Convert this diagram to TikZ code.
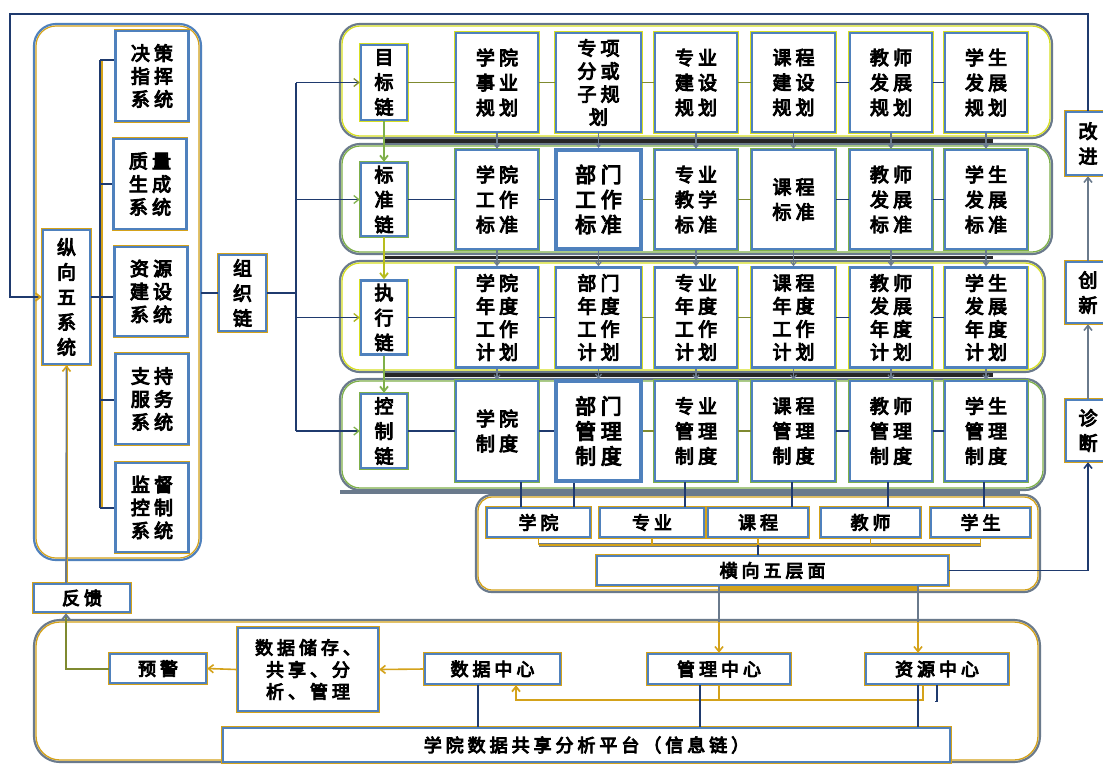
\documentclass[tikz,border=0pt]{standalone}
\usepackage{fontspec}
\setmainfont{Noto Sans CJK SC}[LetterSpace=22,FakeBold=5]
\usetikzlibrary{arrows.meta}
\definecolor{bcol}{HTML}{4F81BD}
\definecolor{gd}{HTML}{D4A21A}
\definecolor{yl}{HTML}{D7DF23}
\definecolor{gn}{HTML}{7FB04A}
\definecolor{nv}{HTML}{1F3A6E}
\definecolor{gy}{HTML}{6A7A8C}
\definecolor{ol}{HTML}{7F8A30}
\newcommand\fsA{\fontsize{19}{25}\selectfont}
\newcommand\fsB{\fontsize{19}{23}\selectfont}
\newcommand\fsC{\fontsize{18}{22}\selectfont}
\newcommand\fsD{\fontsize{21}{25}\selectfont}
\tikzset{
  bx/.style={draw=bcol, line width=2.4, fill=white, align=center, inner sep=0pt, font=\fsA,
    preaction={draw=#1, line width=3.8}},
  bx/.default=gd,
  conn/.style={draw=nv, line width=1.3},
  connol/.style={draw=ol, line width=1.6},
  varr/.style={draw=gy, line width=1.2, -{Straight Barb[length=4pt,width=6pt]}},
  arr/.style={-{Straight Barb[length=5pt,width=8pt]}},
  contout/.style={draw=gy, line width=2.2},
  contin/.style={line width=1.3},
}
\begin{document}
\begin{tikzpicture}[x=1pt,y=-1pt]
\useasboundingbox (0,0) rectangle (1103,764);
\fill[white] (0,0) rectangle (1103,764);

% ---------- containers ----------
\draw[draw=bcol, line width=2.2, rounded corners=22] (34,24) rectangle (201,560);
\draw[draw=gd, line width=1.2, rounded corners=20] (36,26) rectangle (199,558);
\draw[contout, rounded corners=20] (340,24) rectangle (1052,138);
\draw[contin, draw=yl, rounded corners=18] (342,26) rectangle (1050,136);
\draw[contout, rounded corners=20] (340,144) rectangle (1052,254);
\draw[contin, draw=gn, rounded corners=18] (342,146) rectangle (1050,252);
\draw[contout, rounded corners=20] (340,261) rectangle (1045,372);
\draw[contin, draw=yl, rounded corners=18] (342,263) rectangle (1043,370);
\draw[contout, rounded corners=20] (340,379) rectangle (1045,490);
\draw[contin, draw=gn, rounded corners=18] (342,381) rectangle (1043,488);
\draw[line width=3.2, black!85] (385,141) -- (993,141);
\draw[line width=3.2, black!85] (385,257.5) -- (993,257.5);
\draw[line width=3.2, black!85] (385,375) -- (993,375);
\draw[line width=4, gy] (340,492) -- (1020,492);
\draw[contout, rounded corners=16] (476,495) rectangle (1040,592);
\draw[contin, draw=gd, rounded corners=14] (478,497) rectangle (1038,590);
\draw[contout, rounded corners=26] (34,620) rectangle (1040,762);
\draw[contin, draw=gd, rounded corners=24] (36,622) rectangle (1038,760);

% ---------- left side ----------
\node[bx, minimum width=47, minimum height=134] (zx) at (66.5,297) {纵\\向\\五\\系\\统};
\node[bx, font=\fsB, minimum width=73, minimum height=90] (s1) at (152,76) {决策\\指挥\\系统};
\node[bx, font=\fsB, minimum width=73, minimum height=90] (s2) at (150,184) {质量\\生成\\系统};
\node[bx, font=\fsB, minimum width=73, minimum height=89] (s3) at (151,291.5) {资源\\建设\\系统};
\node[bx, font=\fsB, minimum width=73, minimum height=90] (s4) at (152,399) {支持\\服务\\系统};
\node[bx, font=\fsB, minimum width=73, minimum height=89] (s5) at (152,507.5) {监督\\控制\\系统};
\coordinate (lb1) at (100,60);
\coordinate (lb2) at (100,184);
\coordinate (lb4) at (100,400);
\coordinate (lb5) at (100,508);
\draw[gd, line width=2.4] ([xshift=1.5]lb1) -- ([xshift=1.5]lb5);
\draw[nv, line width=1.4] (lb1) -- (lb5);
\draw[conn] (lb1) -- (lb1 -| s1.west);
\draw[conn] (lb2) -- (lb2 -| s2.west);
\draw[conn] (zx.east) -- (zx.east -| s3.west);
\draw[conn] (lb4) -- (lb4 -| s4.west);
\draw[conn] (lb5) -- (lb5 -| s5.west);

\node[bx, minimum width=47, minimum height=76] (zz) at (242.5,293) {组\\织\\链};
\coordinate (lc) at (201,293);
\draw[conn, line width=1.8] (lc) -- (zz.west);

% ---------- chain boxes ----------
\node[bx=yl, minimum width=46, minimum height=75] (c1) at (384,82.5) {目\\标\\链};
\node[bx=gn, minimum width=46, minimum height=73] (c2) at (384,199.5) {标\\准\\链};
\node[bx=yl, minimum width=46, minimum height=74] (c3) at (384,317.5) {执\\行\\链};
\node[bx=gn, minimum width=46, minimum height=74] (c4) at (384,431) {控\\制\\链};
\coordinate (o1) at (296,82.5);
\coordinate (o2) at (296,199.5);
\coordinate (o3) at (296,317.5);
\coordinate (o4) at (296,431);
\draw[nv, line width=1.8] (zz.east) -- (zz.east -| o1);
\draw[nv, line width=1.8] (o1) -- (o4);
\draw[conn, -{Straight Barb[length=5pt,width=8pt,color=ol]}] (o1) -- (c1.west);
\draw[conn, -{Straight Barb[length=5pt,width=8pt,color=gn]}] (o2) -- (c2.west);
\draw[conn, -{Straight Barb[length=5pt,width=8pt,color=yl!80!black]}] (o3) -- (c3.west);
\draw[conn, -{Straight Barb[length=5pt,width=8pt,color=gn]}] (o4) -- (c4.west);
\draw[gn, line width=1.8, arr] (c1.south) -- (c2.north);
\draw[yl!85!black, line width=1.8, arr] (c2.south) -- (c3.north);
\draw[gn, line width=1.8, arr] (c3.south) -- (c4.north);

% ---------- row 1 ----------
\node[bx=yl, minimum width=82, minimum height=99] (r11) at (497,82.5) {学院\\事业\\规划};
\node[bx=yl, font=\fsB, minimum width=85, minimum height=99] (r12) at (598.5,82.5) {专项\\分或\\子规\\划};
\node[bx=yl, minimum width=82, minimum height=99] (r13) at (696,82.5) {专业\\建设\\规划};
\node[bx=yl, minimum width=83, minimum height=99] (r14) at (793.5,82.5) {课程\\建设\\规划};
\node[bx=yl, minimum width=82, minimum height=99] (r15) at (891,82.5) {教师\\发展\\规划};
\node[bx=yl, minimum width=82, minimum height=99] (r16) at (986,82.5) {学生\\发展\\规划};
% ---------- row 2 ----------
\node[bx=gn, minimum width=82, minimum height=99] (r21) at (497,199.5) {学院\\工作\\标准};
\node[bx=gn, font=\fsD, line width=4, minimum width=85, minimum height=99] (r22) at (598.5,199.5) {部门\\工作\\标准};
\node[bx=gn, minimum width=82, minimum height=99] (r23) at (696,199.5) {专业\\教学\\标准};
\node[bx=gn, minimum width=83, minimum height=99] (r24) at (793.5,199.5) {课程\\标准};
\node[bx=gn, minimum width=82, minimum height=99] (r25) at (891,199.5) {教师\\发展\\标准};
\node[bx=gn, minimum width=82, minimum height=99] (r26) at (986,199.5) {学生\\发展\\标准};
% ---------- row 3 ----------
\node[bx=yl, font=\fsB, minimum width=82, minimum height=100] (r31) at (497,317.5) {学院\\年度\\工作\\计划};
\node[bx=yl, font=\fsB, minimum width=85, minimum height=100] (r32) at (598.5,317.5) {部门\\年度\\工作\\计划};
\node[bx=yl, font=\fsB, minimum width=82, minimum height=100] (r33) at (696,317.5) {专业\\年度\\工作\\计划};
\node[bx=yl, font=\fsB, minimum width=83, minimum height=100] (r34) at (793.5,317.5) {课程\\年度\\工作\\计划};
\node[bx=yl, font=\fsB, minimum width=82, minimum height=100] (r35) at (891,317.5) {教师\\发展\\年度\\计划};
\node[bx=yl, font=\fsB, minimum width=82, minimum height=100] (r36) at (986,317.5) {学生\\发展\\年度\\计划};
% ---------- row 4 ----------
\node[bx=gn, minimum width=82, minimum height=100] (r41) at (497,431) {学院\\制度};
\node[bx=gn, font=\fsD, line width=4, minimum width=85, minimum height=100] (r42) at (598.5,431) {部门\\管理\\制度};
\node[bx=gn, minimum width=82, minimum height=100] (r43) at (696,431) {专业\\管理\\制度};
\node[bx=gn, minimum width=83, minimum height=100] (r44) at (793.5,431) {课程\\管理\\制度};
\node[bx=gn, minimum width=82, minimum height=100] (r45) at (891,431) {教师\\管理\\制度};
\node[bx=gn, minimum width=82, minimum height=100] (r46) at (986,431) {学生\\管理\\制度};

% row connectors
\draw[connol] (c1.east) -- (r11.west);
\draw[connol] (r11.east) -- (r12.west);
\draw[connol] (r12.east) -- (r13.west);
\draw[connol] (r13.east) -- (r14.west);
\draw[conn] (r14.east) -- (r15.west);
\draw[conn] (r15.east) -- (r16.west);
\foreach \r in {2,3,4}{
  \draw[conn] (c\r.east) -- (r\r1.west);
  \draw[conn] (r\r1.east) -- (r\r2.west);
  \draw[connol] (r\r2.east) -- (r\r3.west);
  \draw[connol] (r\r3.east) -- (r\r4.west);
  \draw[conn] (r\r4.east) -- (r\r5.west);
  \draw[conn] (r\r5.east) -- (r\r6.west);
}
% vertical row arrows
\foreach \c in {1,...,6}{
  \draw[varr] (r1\c.south) -- (r2\c.north);
  \draw[varr] (r2\c.south) -- (r3\c.north);
  \draw[varr] (r3\c.south) -- (r4\c.north);
}

% ---------- horizontal five levels ----------
\node[bx, font=\fsC, minimum width=103, minimum height=29] (bl1) at (538.5,522.5) {学院};
\node[bx, font=\fsC, minimum width=104, minimum height=29] (bl2) at (652,522.5) {专业};
\node[bx, font=\fsC, minimum width=100, minimum height=29] (bl3) at (758,522.5) {课程};
\node[bx, font=\fsC, minimum width=99, minimum height=29] (bl4) at (870.5,522.5) {教师};
\node[bx, font=\fsC, minimum width=99, minimum height=29] (bl5) at (980.5,522.5) {学生};
\node[bx, font=\fsC, minimum width=351, minimum height=29] (hm) at (772.5,570.5) {横向五层面};
\draw[conn] ([xshift=24]r41.south) -- ([xshift=24]r41.south |- bl1.north);
\draw[conn] ([xshift=-24.5]r42.south) -- ([xshift=-24.5]r42.south |- bl1.north);
\draw[conn] ([xshift=-11]r43.south) -- ([xshift=-11]r43.south |- bl2.north);
\draw[conn] ([xshift=-1.5]r44.south) -- ([xshift=-1.5]r44.south |- bl3.north);
\draw[conn] ([xshift=-3]r45.south) -- ([xshift=-3]r45.south |- bl4.north);
\draw[conn] ([xshift=-2]r46.south) -- ([xshift=-2]r46.south |- bl5.north);
\coordinate (hb) at (0,545);
\draw[gd, line width=2.4, preaction={draw=gy, line width=3.4}] (bl1.south |- hb) -- (bl5.south |- hb);
\foreach \b in {1,...,5}{ \draw[gd, line width=1.6] (bl\b.south) -- (bl\b.south |- hb); }
\draw[conn] (bl3.south |- hb) -- (bl3.south |- hm.north);

% ---------- right column ----------
\node[bx, minimum width=44, minimum height=63] (gj) at (1088,143.5) {改\\进};
\node[bx, minimum width=44, minimum height=61] (cx) at (1088,292.5) {创\\新};
\node[bx, minimum width=44, minimum height=61] (zd) at (1088,430.5) {诊\\断};
\draw[nv, line width=1.6, arr] (hm.east) -| (zd.south);
\draw[gy, line width=1.6, arr] (zd.north) -- (cx.south);
\draw[gy, line width=1.6, arr] (cx.north) -- (gj.south);
\coordinate (tl) at (10,14);
\draw[nv, line width=1.8, -{Straight Barb[length=5pt,width=8pt,color=gd]}] (gj.north) |- (tl) |- (zx.west);

% ---------- bottom platform ----------
\node[bx, font=\fsC, minimum width=96, minimum height=28] (fk) at (82,598) {反馈};
\node[bx, font=\fsC, minimum width=96, minimum height=29] (yj) at (158,668.5) {预警};
\node[bx, font=\fsC, minimum width=140, minimum height=83] (ds) at (308,669.5) {数据储存、\\共享、分\\析、管理};
\node[bx, font=\fsC, minimum width=135, minimum height=30] (dc) at (492.5,669) {数据中心};
\node[bx, font=\fsC, minimum width=142, minimum height=30] (gl) at (719,669) {管理中心};
\node[bx, font=\fsC, minimum width=142, minimum height=30] (zy) at (937,669) {资源中心};
\node[bx, font=\fsC, minimum width=727, minimum height=34] (pf) at (586.5,745) {学院数据共享分析平台（信息链）};

\draw[gd, line width=1.6, arr] (dc.west) -- (ds.east);
\draw[gd, line width=1.6, arr] (ds.west) -- (yj.east);
\draw[ol, line width=2, -{Straight Barb[length=5pt,width=8pt,color=gy]}] (yj.west) -| ([xshift=-16]fk.south);
\draw[gy, line width=1.6, -{Straight Barb[length=5pt,width=8pt,color=gd]}] ([xshift=-16]fk.north) -- (zx.south);
\draw[gd, line width=1.2] ([xshift=-14.5]fk.north) -- ([xshift=-14.5]fk.north |- zx.south);

% from 横向五层面 to centres
\draw[gd, line width=4.5] ([xshift=-53.5,yshift=-2.5]hm.south) -- ([xshift=145.5,yshift=-2.5]hm.south);
\coordinate (bt) at (0,622);
\draw[gy, line width=1.6] ([xshift=-53.5]hm.south) -- ([xshift=-53.5]hm.south |- bt);
\draw[gy, line width=1.6] ([xshift=145.5]hm.south) -- ([xshift=145.5]hm.south |- bt);
\draw[gd, line width=1.6, arr] (gl.north |- bt) -- (gl.north);
\draw[gd, line width=1.6, arr] ([xshift=-19]zy.north |- bt) -- ([xshift=-19]zy.north);

% centres to platform
\coordinate (g7) at (0,700);
\draw[gd, line width=1.8, arr] ([xshift=-14]zy.south) |- ([xshift=23.5]dc.south |- g7) -- ([xshift=23.5]dc.south);
\draw[gd, line width=1.8] (gl.south) -- (gl.south |- g7);
\draw[conn] ([xshift=-14.5]dc.south) -- ([xshift=-14.5]dc.south |- pf.north);
\draw[conn] ([xshift=-19]gl.south) -- ([xshift=-19]gl.south |- pf.north);
\draw[conn] ([xshift=-19]zy.south) -- ([xshift=-19]zy.south |- pf.north);
\draw[conn] (zy.south) -- ([yshift=-16]zy.south) -- ([xshift=-2,yshift=-16]zy.south);
\end{tikzpicture}
\end{document}
